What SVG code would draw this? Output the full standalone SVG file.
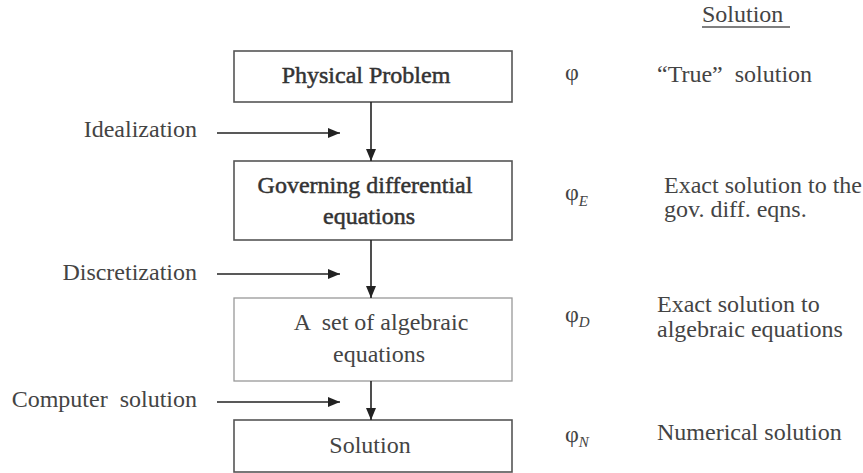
<svg xmlns="http://www.w3.org/2000/svg" width="863" height="473" viewBox="0 0 863 473">
<defs>
<marker id="ah" markerUnits="userSpaceOnUse" markerWidth="12" markerHeight="12" viewBox="0 0 12 12" refX="12" refY="6" orient="auto">
<path d="M0,1 L12,6 L0,11 Z" fill="#222"/>
</marker>
<style>
.box{fill:#fff;stroke:#555;stroke-width:1.6}
.box.light{stroke:#999;stroke-width:1.3}
.t{font-family:"Liberation Serif","Times New Roman",serif;font-size:24px;fill:#444}
.tb{font-family:"Liberation Serif","Times New Roman",serif;font-size:24px;fill:#333;stroke:#333;stroke-width:0.5}
.c{text-anchor:middle}
.e{text-anchor:end}
.sub{font-size:15px;font-style:italic}
.conn line{stroke:#222;stroke-width:1.6}
</style>
</defs>
<rect width="863" height="473" fill="#fff"/>

<g id="node-physical">
<rect class="box" x="234" y="51" width="278" height="51"/>
<text class="tb c" x="366" y="83">Physical Problem</text>
</g>
<g id="node-governing">
<rect class="box" x="234" y="161" width="278" height="79"/>
<text class="tb c" x="365" y="193">Governing differential</text>
<text class="tb c" x="369" y="224">equations</text>
</g>
<g id="node-algebraic">
<rect class="box light" x="234" y="298" width="278" height="83"/>
<text class="t c" x="381" y="330" xml:space="preserve">A  set of algebraic</text>
<text class="t c" x="379" y="362">equations</text>
</g>
<g id="node-solution">
<rect class="box" x="234" y="420" width="278" height="52"/>
<text class="t c" x="370" y="453">Solution</text>
</g>

<g id="connectors" class="conn">
<line x1="371" y1="102" x2="371" y2="161" marker-end="url(#ah)"/>
<line x1="371" y1="240" x2="371" y2="298" marker-end="url(#ah)"/>
<line x1="371" y1="381" x2="371" y2="420" marker-end="url(#ah)"/>
<line x1="217" y1="133" x2="340" y2="133" marker-end="url(#ah)"/>
<line x1="217" y1="274" x2="340" y2="274" marker-end="url(#ah)"/>
<line x1="217" y1="402" x2="340" y2="402" marker-end="url(#ah)"/>
</g>

<g id="labels-left">
<text class="t e" x="197" y="137">Idealization</text>
<text class="t e" x="197" y="280">Discretization</text>
<text class="t e" x="197" y="407" xml:space="preserve">Computer  solution</text>
</g>

<g id="labels-right">
<text class="t" x="702" y="22">Solution</text>
<line x1="702" y1="27" x2="790" y2="27" stroke="#555" stroke-width="1.5"/>
<text class="t" x="565" y="80">φ</text>
<text class="t" x="657" y="82" xml:space="preserve">“True”  solution</text>
<text class="t" x="565" y="200">φ<tspan class="sub" dy="6">E</tspan></text>
<text class="t" x="664" y="193">Exact solution to the</text>
<text class="t" x="664" y="217">gov. diff. eqns.</text>
<text class="t" x="565" y="322">φ<tspan class="sub" dy="5">D</tspan></text>
<text class="t" x="657" y="312">Exact solution to</text>
<text class="t" x="657" y="337">algebraic equations</text>
<text class="t" x="565" y="442">φ<tspan class="sub" dy="5">N</tspan></text>
<text class="t" x="657" y="440">Numerical solution</text>
</g>
</svg>
